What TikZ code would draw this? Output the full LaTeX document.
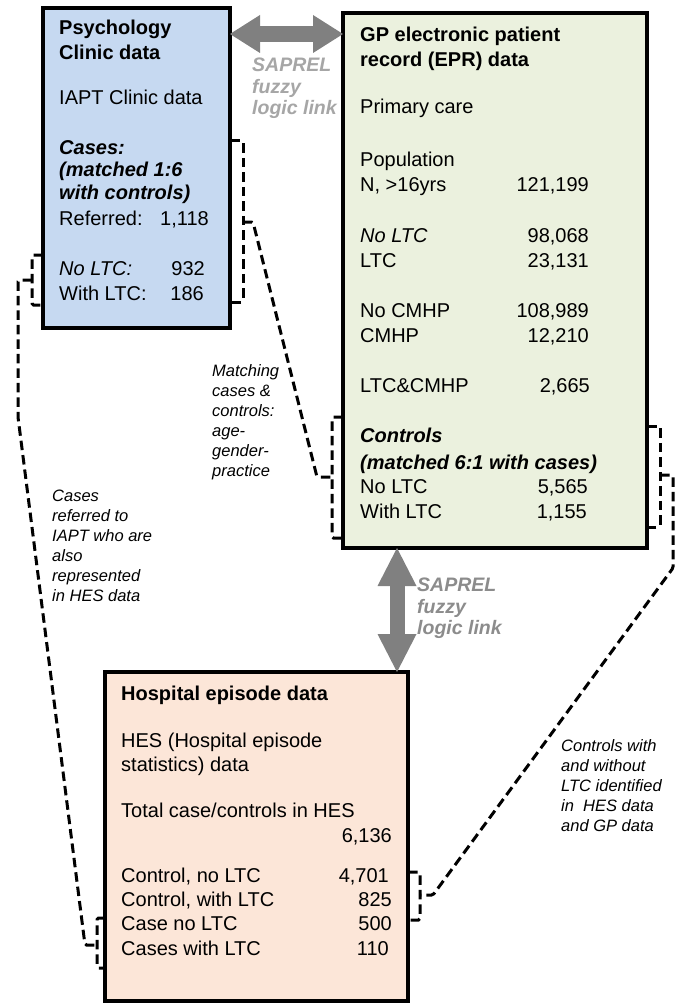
\documentclass[tikz,border=0pt]{standalone}
\usepackage{fontspec}
\setmainfont{Liberation Sans}
\usetikzlibrary{arrows.meta}
\definecolor{psyfill}{HTML}{C6D9F1}
\definecolor{gpfill}{HTML}{EBF1DE}
\definecolor{hesfill}{HTML}{FCE6D8}
\definecolor{arrowgray}{HTML}{808080}
\definecolor{linklight}{HTML}{A6A6A6}
\definecolor{linkdark}{HTML}{8C8C8C}
\newcommand\myfz{\fontsize{20}{24}\selectfont}
\begin{document}
\begin{tikzpicture}[x=1pt,y=-1pt,
  box/.style={draw=black, line width=3.2pt, anchor=north west, inner sep=0pt, outer sep=0pt},
  t/.style={anchor=base west, inner sep=0pt, font=\myfz},
  tb/.style={anchor=base west, inner sep=0pt, font=\myfz\bfseries},
  ti/.style={anchor=base west, inner sep=0pt, font=\myfz\itshape},
  tbi/.style={anchor=base west, inner sep=0pt, font=\myfz\bfseries\itshape},
  num/.style={anchor=base east, inner sep=0pt, font=\myfz},
  note/.style={anchor=north west, inner sep=0pt, align=left, font=\fontsize{16.5}{20}\selectfont\itshape},
  linkt/.style={anchor=north west, inner sep=0pt, align=left, font=\fontsize{19.5}{21.5}\selectfont\bfseries\itshape},
  conn/.style={draw=black, line width=3pt, dash pattern=on 9.5pt off 5pt, rounded corners=1.5pt},
  harrow/.style={draw=arrowgray, line width=16pt,
    {Triangle[width=38pt,length=30pt,line width=0pt]}-{Triangle[width=38pt,length=30pt,line width=0pt]}},
  varrow/.style={draw=arrowgray, line width=15pt,
    {Triangle[width=39pt,length=38pt,line width=0pt]}-{Triangle[width=39pt,length=38pt,line width=0pt]}}
]
\useasboundingbox (0,0) rectangle (683,1003);
\fill[white] (0,0) rectangle (683,1003);

% boxes
\node[box, fill=psyfill, minimum width=187pt, minimum height=320pt] (psy) at (43,8) {};
\node[box, fill=gpfill, minimum width=304pt, minimum height=535pt] (gp) at (343,13) {};
\node[box, fill=hesfill, minimum width=303pt, minimum height=329pt] (hes) at (105,672) {};

% SAPREL links
\draw[harrow] ([yshift=-26pt]psy.north east) -- ([yshift=-26pt]psy.north east -| gp.west);
\draw[varrow] ([xshift=54pt]gp.south west) -- ([xshift=54pt]gp.south west |- hes.north);
\node[linkt, text=linklight] (sap1) at (252,58) {SAPREL\\fuzzy\\logic link};
\node[linkt, text=linkdark] (sap2) at (417,578) {SAPREL\\fuzzy\\logic link};

% Psychology box text
\node[tb] (p1) at (59,35) {Psychology};
\node[tb] (p2) at (59,60) {Clinic data};
\node[t] (p3) at (59,105) {IAPT Clinic data};
\node[tbi] (p4) at (59,155) {Cases:};
\node[tbi] (p5) at (59,177) {(matched 1:6};
\node[tbi] (p6) at (59,199) {with controls)};
\node[t] (p7) at (59,225) {Referred:};
\node[num] (p7n) at (209,225) {1,118};
\node[ti] (p8) at (59,275) {No LTC:};
\node[num] (p8n) at (205,275) {932};
\node[t] (p9) at (59,300) {With LTC:};
\node[num] (p9n) at (204,300) {186};

% GP box text
\node[tb] (g1) at (360,42) {GP electronic patient};
\node[tb] (g2) at (360,67) {record (EPR) data};
\node[t] (g3) at (360,114) {Primary care};
\node[t] (g4) at (360,167) {Population};
\node[t] (g5) at (360,192) {N, >16yrs};
\node[num] (g5n) at (589,192) {121,199};
\node[ti] (g6) at (360,242) {No LTC};
\node[num] (g6n) at (589,242) {98,068};
\node[t] (g7) at (360,267) {LTC};
\node[num] (g7n) at (589,267) {23,131};
\node[t] (g8) at (360,317) {No CMHP};
\node[num] (g8n) at (589,317) {108,989};
\node[t] (g9) at (360,342) {CMHP};
\node[num] (g9n) at (589,342) {12,210};
\node[t] (g10) at (360,392) {LTC\&CMHP};
\node[num] (g10n) at (590,392) {2,665};
\node[tbi] (g11) at (360,442) {Controls};
\node[tbi] (g12) at (360,469) {(matched 6:1 with cases)};
\node[t] (g13) at (360,493) {No LTC};
\node[num] (g13n) at (588,493) {5,565};
\node[t] (g14) at (360,518) {With LTC};
\node[num] (g14n) at (587,518) {1,155};

% Hospital box text
\node[tb] (h1) at (121,700) {Hospital episode data};
\node[t] (h2) at (121,747) {HES (Hospital episode};
\node[t] (h3) at (121,771) {statistics) data};
\node[t] (h4) at (121,817) {Total case/controls in HES};
\node[num] (h4n) at (392,842) {6,136};
\node[t] (h5) at (121,882) {Control, no LTC};
\node[num] (h5n) at (389,882) {4,701};
\node[t] (h6) at (121,906) {Control, with LTC};
\node[num] (h6n) at (392,906) {825};
\node[t] (h7) at (121,930) {Case no LTC};
\node[num] (h7n) at (392,930) {500};
\node[t] (h8) at (121,955) {Cases with LTC};
\node[num] (h8n) at (389,955) {110};

% notes
\node[note] (n1) at (52,490) {Cases\\referred to\\IAPT who are\\also\\represented\\in HES data};
\node[note] (n2) at (212,364) {Matching\\cases \&\\controls:\\age-\\gender-\\practice};
\node[note] (n3) at (561,739) {Controls with\\and without\\LTC identified\\in~ HES data\\and GP data};

% bracket end points
\coordinate (aL) at (243,222);
\coordinate (aR) at (332,477);
\coordinate (bL) at (32,280);
\coordinate (bR) at (97,945);
\coordinate (cL) at (660,475);
\coordinate (cR) at (420,895);

% connector A: psychology cases -> GP controls
\draw[conn] (psy.east |- 0,141) -- (243,141) -- (243,302) -- (psy.east |- 0,302);
\draw[conn] (gp.west |- 0,417) -- (332,417) -- (332,538) -- (gp.west |- 0,538);
\draw[conn] (aL) -- (253,222) -- (317,477) -- (aR);

% connector B: psychology LTC split -> HES cases
\draw[conn] (psy.west |- 0,255) -- (32,255) -- (32,305) -- (psy.west |- 0,305);
\draw[conn] (hes.west |- 0,918) -- (97,918) -- (97,968) -- (hes.west |- 0,968);
\draw[conn] (bL) -- (18,280) -- (18,417) -- (85,945) -- (bR);

% connector C: GP controls -> HES controls
\draw[conn] (gp.east |- 0,426) -- (660,426) -- (660,527) -- (gp.east |- 0,527);
\draw[conn] (hes.east |- 0,872) -- (420,872) -- (420,920) -- (hes.east |- 0,920);
\draw[conn] (cL) -- (673,475) -- (673,568) -- (433,895) -- (cR);
\end{tikzpicture}
\end{document}
